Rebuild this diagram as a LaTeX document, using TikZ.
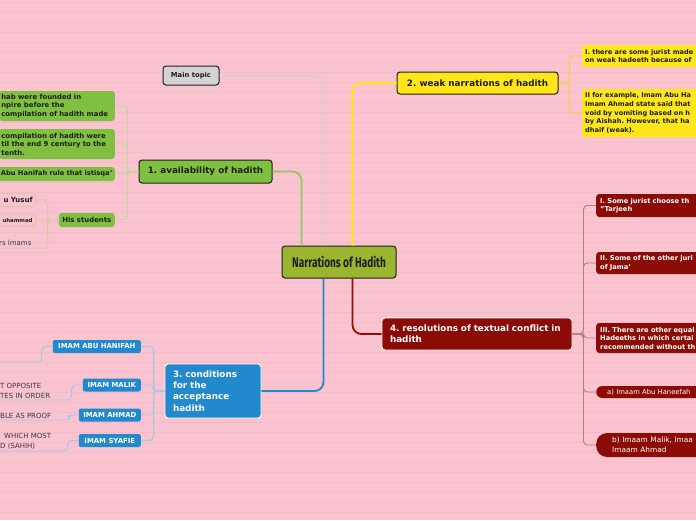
\documentclass[tikz,border=0pt]{standalone}
\usepackage{fontspec}
\usepackage{graphicx}
\setmainfont{DejaVu Sans}
\newfontfamily\titlefont{Fira Sans}
\usetikzlibrary{calc}
\frenchspacing
\definecolor{bg}{HTML}{F9C3D0}
\definecolor{ruleline}{HTML}{F4BCCA}
\definecolor{olive}{HTML}{9BB52F}
\definecolor{leaf}{HTML}{80C040}
\definecolor{yel}{HTML}{FFE619}
\definecolor{dred}{HTML}{8B0C06}
\definecolor{mblue}{HTML}{2389CD}
\definecolor{graybox}{HTML}{D3D3D3}
\definecolor{ink}{HTML}{1E1E1E}
\definecolor{txtgray}{HTML}{3A3A3A}
\definecolor{HTMLtan}{HTML}{D9C7A6}
\tikzset{
  topbox/.style={draw=ink, line width=1pt, rounded corners=3pt, inner sep=0pt, text=ink},
  subbox/.style={rounded corners=3pt, inner ysep=0pt, align=left},
  gcon/.style={draw=leaf!85!white, line width=1.8pt, rounded corners=9pt},
  graycon/.style={draw=graybox, line width=1.4pt, rounded corners=9pt},
  ycon/.style={draw=yel, line width=2.2pt, rounded corners=9pt},
  rcon/.style={draw=dred!85!red, line width=1.8pt, rounded corners=9pt},
  bcon/.style={draw=mblue, line width=1.8pt, rounded corners=9pt},
  gthin/.style={draw=leaf!55!white, line width=0.9pt, rounded corners=4pt},
  tthin/.style={draw=HTMLtan, line width=0.9pt, rounded corners=4pt},
  ythin/.style={draw=yel!80!orange, line width=0.8pt, rounded corners=4pt},
  rthin/.style={draw=dred!55!white, line width=0.9pt, rounded corners=4pt},
  bthin/.style={draw=mblue!45!white, line width=0.9pt, rounded corners=4pt},
  ltext/.style={font=\fontsize{7}{10}\selectfont, text=txtgray, align=left, inner xsep=0pt, inner ysep=1.5pt},
  imam/.style={fill=mblue, text=white, font=\fontsize{6.9}{7.5}\selectfont\bfseries, rounded corners=2pt, minimum height=13pt, inner sep=0pt},
}
\begin{document}
\begin{tikzpicture}[x=1pt,y=-1pt]
\useasboundingbox (0,0) rectangle (696,520);
\clip (0,0) rectangle (696,520);
\fill[bg] (0,0) rectangle (696,520);
\foreach \k in {0,...,51} \draw[ruleline, line width=0.7pt] (0,2+10*\k) -- (696,2+10*\k);

% central and main topics
\node[topbox, fill=olive, minimum width=114pt, minimum height=32pt] (root) at (339,262)
  {\scalebox{0.72}[1]{\titlefont\bfseries\fontsize{14}{16}\selectfont Narrations of Hadith}};
\node[topbox, fill=graybox, minimum width=56pt, minimum height=19pt, font=\fontsize{6.8}{7.5}\selectfont\bfseries] (main) at (191,75.5) {Main topic};
\node[topbox, fill=leaf, minimum width=133pt, minimum height=23pt, font=\fontsize{8.8}{10}\selectfont\bfseries] (one) at (205.5,171.5) {1. availability of hadith};
\node[topbox, fill=yel, minimum width=161pt, minimum height=22pt, font=\fontsize{8.8}{10}\selectfont\bfseries] (weak) at (477.5,83) {2. weak narrations of hadith};
\node[draw=white, line width=0.9pt, rounded corners=3pt, fill=mblue, text=white, align=left, text width=80pt, inner xsep=8pt, inner ysep=0pt, minimum height=54pt, font=\fontsize{8.8}{11.3}\selectfont\bfseries] (cond) at (213,391) {3. conditions\\for the\\acceptance\\hadith};
\node[draw=white, line width=0.9pt, rounded corners=3pt, fill=dred, text=white, align=left, text width=174pt, inner xsep=8pt, inner ysep=0pt, minimum height=32pt, font=\fontsize{8.8}{11}\selectfont\bfseries] (res) at (477,334) {4. resolutions of textual conflict in\\hadith};

% main connectors
\draw[graycon] (main.east) -| ($(root.north west)+(41,0)$);
\draw[gcon] (one.east) -| ($(root.north west)+(20,0)$);
\draw[ycon] ($(root.north west)+(71,0)$) |- (weak.west);
\draw[rcon] ($(root.south west)+(71,0)$) |- (res.west);
\draw[bcon] ($(root.south west)+(42,0)$) |- (cond.east);

% branch 1 children
\begin{scope}[every node/.style={subbox, fill=leaf, text=ink, font=\fontsize{6.9}{8.5}\selectfont\bfseries}]
\node[anchor=east, text width=111pt, inner xsep=2.5pt, minimum height=30pt] (ca) at (115,106) {hab were founded in\\npire before the\\compilation of hadith made};
\node[anchor=east, text width=111pt, inner xsep=2.5pt, minimum height=30pt] (cb) at (115,144) {compilation of hadith were\\til the end 9 century to the\\tenth.};
\node[anchor=east, text width=125pt, align=right, inner xsep=2.5pt, minimum height=14pt, font=\fontsize{6.7}{8}\selectfont\bfseries] (cc) at (115,174) {Abu Hanifah rule that istisqa'};
\node[anchor=east, minimum width=56pt, minimum height=14pt, inner xsep=0pt, align=center] (students) at (115,220) {His students};
\end{scope}
\draw[gthin] (one.west) -- ++(-11,0) |- (ca.east);
\draw[gthin] (one.west) -- ++(-11,0) |- (cb.east);
\draw[gthin] (one.west) -- ++(-11,0) |- (cc.east);
\draw[gthin] (one.west) -- ++(-11,0) |- (students.east);

% His students children
\node[subbox, draw=HTMLtan, line width=0.8pt, fill=bg, anchor=east, text width=38pt, align=right, inner xsep=3pt, minimum height=13pt, font=\fontsize{7}{8}\selectfont\bfseries, text=ink] (yusuf) at (36,200) {u Yusuf};
\node[subbox, draw=HTMLtan, line width=0.8pt, fill=bg, anchor=east, text width=38pt, align=right, inner xsep=3pt, minimum height=12pt, font=\fontsize{5.4}{6}\selectfont\bfseries, text=ink] (muh) at (36,220.5) {uhammad};
\node[ltext, font=\fontsize{7}{9}\selectfont, anchor=south west, inner ysep=2pt] (imams) at (-1,248) {rs imams};
\draw[tthin] (students.west) -- ++(-11,0) |- (yusuf.east);
\draw[tthin] (students.west) -- ++(-11,0) |- (muh.east);
\draw[tthin] (students.west) -- ++(-11,0) |- (imams.south west);

% branch 2 children
\begin{scope}[every node/.style={subbox, fill=yel, text=ink, font=\fontsize{6.6}{8.6}\selectfont\bfseries, anchor=west, text width=140pt, inner xsep=3pt}]
\node[minimum height=22pt] (y1) at (582,56) {I. there are some jurist made\\on weak hadeeth because of};
\node[minimum height=48pt] (y2) at (582,113) {II for example, Imam Abu Ha\\Imam Ahmad state said that\\void by vomiting based on h\\by Aishah. However, that ha\\dhaif (weak).};
\end{scope}
\draw[ythin] (weak.east) -- ++(11,0) |- (y1.west);
\draw[ythin] (weak.east) -- ++(11,0) |- (y2.west);

% branch 4 children
\begin{scope}[every node/.style={subbox, fill=dred, text=white, font=\fontsize{6.7}{8.5}\selectfont\bfseries, anchor=west, text width=130pt, inner xsep=4pt}]
\node[minimum height=23pt] (r1) at (596,205.5) {I. Some jurist choose th\\"Tarjeeh};
\node[minimum height=22pt] (r2) at (596,263) {II. Some of the other juri\\of Jama'};
\node[minimum height=30pt] (r3) at (596,338) {III. There are other equal\\Hadeeths in which certai\\recommended without th};
\node[minimum height=12pt, rounded corners=6pt, inner xsep=11pt, font=\fontsize{6.8}{8}\selectfont] (ra) at (596,392) {a) Imaam Abu Haneefah};
\node[minimum height=24pt, rounded corners=11pt, inner xsep=16pt, font=\fontsize{7.4}{10}\selectfont] (rb) at (596,445) {b) Imaam Malik, Imaa\\Imaam Ahmad};
\end{scope}
\draw[rthin] (res.east) -- ++(11,0) |- (r1.west);
\draw[rthin] (res.east) -- ++(11,0) |- (r2.west);
\draw[rthin] (res.east) -- ++(11,0) |- (r3.west);
\draw[rthin] (res.east) -- ++(11,0) |- (ra.west);
\draw[rthin] (res.east) -- ++(11,0) |- (rb.west);

% branch 3 children
\node[imam, anchor=east, minimum width=88pt] (hanifah) at (141,346.5) {IMAM ABU HANIFAH};
\node[imam, anchor=east, minimum width=58pt] (malik) at (141,385) {IMAM MALIK};
\node[imam, anchor=east, minimum width=62pt] (ahmad) at (141,415) {IMAM AHMAD};
\node[imam, anchor=east, minimum width=62pt] (syafie) at (141,440.5) {IMAM SYAFIE};
\draw[bthin] (cond.west) -- ++(-11,0) |- (hanifah.east);
\draw[bthin] (cond.west) -- ++(-11,0) |- (malik.east);
\draw[bthin] (cond.west) -- ++(-11,0) |- (ahmad.east);
\draw[bthin] (cond.west) -- ++(-11,0) |- (syafie.east);

\coordinate (h1) at (-2,362);
\node[ltext, anchor=south west] (m1) at (0,400) {T OPPOSITE\\TES IN ORDER};
\node[ltext, anchor=south west] (a1) at (0,420) {BLE AS PROOF};
\node[ltext, anchor=south west] (s1) at (0,451) {\hspace*{4pt}WHICH MOST\\D (SAHIH)};
\draw[bthin] (hanifah.west) -- ++(-11,0) |- (h1);
\draw[bthin] (malik.west) -- ++(-11,0) |- (m1.south west);
\draw[bthin] (ahmad.west) -- ++(-10,0) |- (a1.south west);
\draw[bthin] (syafie.west) -- ++(-11,0) |- (s1.south west);
\end{tikzpicture}
\end{document}
